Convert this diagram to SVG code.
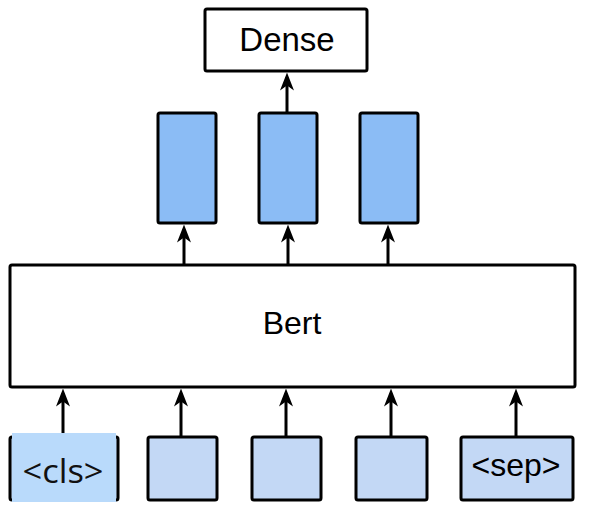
<svg xmlns="http://www.w3.org/2000/svg" width="590" height="514" viewBox="0 0 590 514">
<defs>
<marker id="ah" viewBox="0 0 18 14" refX="13" refY="7" markerWidth="18" markerHeight="14" orient="auto" markerUnits="userSpaceOnUse">
<path d="M0,0 L18,7 L0,14 L5,7 Z" fill="#000"/>
</marker>
<style>
.box{stroke:#000;stroke-width:3;stroke-linejoin:round}
.w{fill:#fff}
.dark{fill:#8bbcf5}
.light{fill:#c3d8f5}
.lbl{font-family:"Liberation Sans",Arial,sans-serif;fill:#000;text-anchor:middle}
.edge{stroke:#000;stroke-width:3;fill:none;marker-end:url(#ah)}
</style>
</defs>
<rect width="590" height="514" fill="#fff"/>
<g id="dense">
<rect class="box w" x="205" y="9" width="162" height="62" rx="2"/>
<text class="lbl" x="287" y="51" font-size="33">Dense</text>
</g>
<g id="h1"><rect class="box dark" x="158" y="113" width="58" height="110" rx="2"/></g>
<g id="h2"><rect class="box dark" x="259" y="113" width="58" height="110" rx="2"/></g>
<g id="h3"><rect class="box dark" x="360" y="113" width="58" height="110" rx="2"/></g>
<g id="bert">
<rect class="box w" x="10" y="265" width="565" height="122" rx="2"/>
<text class="lbl" x="292" y="334" font-size="32">Bert</text>
</g>
<g id="cls">
<rect class="box light" x="10" y="437" width="108" height="63" rx="2"/>
<rect x="12" y="433" width="104" height="69" fill="#b9dafb"/>
<text x="63" y="483" font-size="33" font-family="'Open Sans','Noto Sans',sans-serif" fill="#111" text-anchor="middle" textLength="81" lengthAdjust="spacingAndGlyphs">&lt;cls&gt;</text>
</g>
<g id="t2"><rect class="box light" x="148" y="437" width="69" height="63" rx="2"/></g>
<g id="t3"><rect class="box light" x="252" y="437" width="69" height="63" rx="2"/></g>
<g id="t4"><rect class="box light" x="356" y="437" width="71" height="63" rx="2"/></g>
<g id="sep">
<rect class="box light" x="461" y="437" width="112" height="63" rx="2"/>
<text class="lbl" x="516" y="476" font-size="32">&lt;sep&gt;</text>
</g>
<g id="connectors">
<line class="edge" x1="287" y1="113" x2="287" y2="77.5"/>
<line class="edge" x1="184" y1="265" x2="184" y2="229.5"/>
<line class="edge" x1="288" y1="265" x2="288" y2="229.5"/>
<line class="edge" x1="388" y1="265" x2="388" y2="229.5"/>
<line class="edge" x1="63" y1="433" x2="63" y2="393.5"/>
<line class="edge" x1="181" y1="437" x2="181" y2="393.5"/>
<line class="edge" x1="286" y1="437" x2="286" y2="393.5"/>
<line class="edge" x1="391" y1="437" x2="391" y2="393.5"/>
<line class="edge" x1="516" y1="437" x2="516" y2="393.5"/>
</g>
</svg>
